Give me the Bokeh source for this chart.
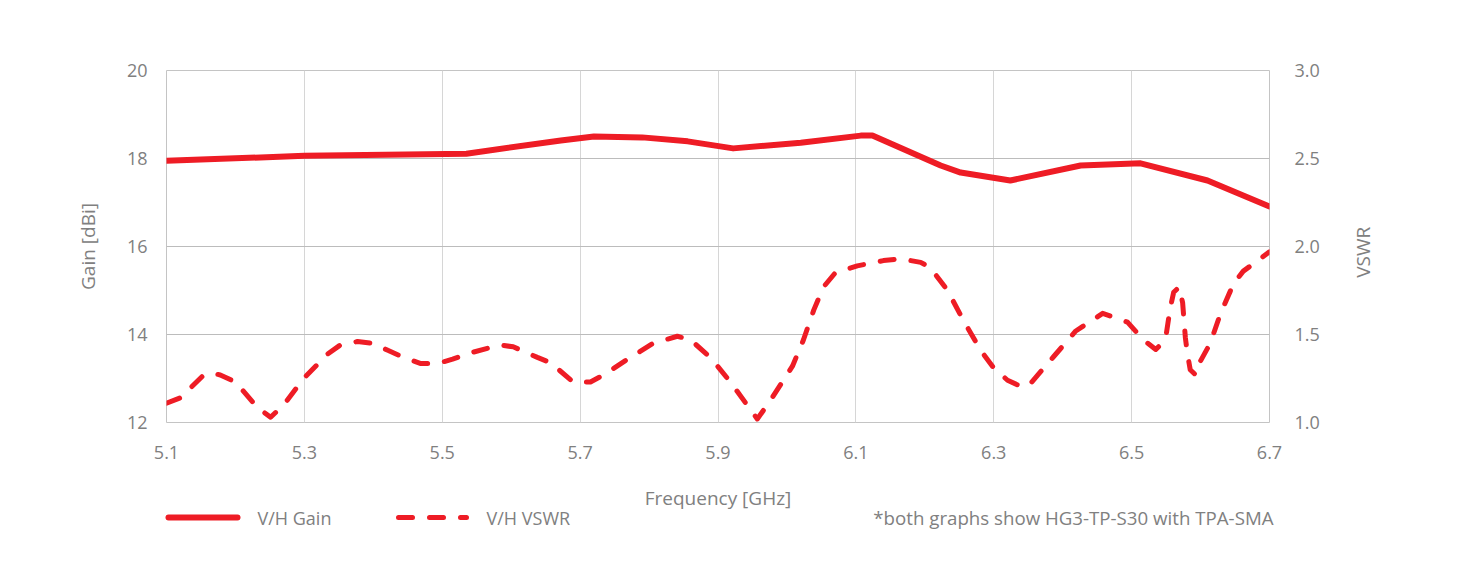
import math
from bokeh.plotting import figure
from bokeh.layouts import column, row
from bokeh.models import Range1d, LinearAxis, FixedTicker, NumeralTickFormatter
from bokeh.core.properties import value
from bokeh.embed import file_html
from bokeh.resources import INLINE

# ---------------- data ----------------
freq_gain = [5.100, 5.300, 5.535, 5.672, 5.720, 5.790, 5.856, 5.922, 6.020,
             6.107, 6.124, 6.223, 6.252, 6.324, 6.426, 6.513, 6.610, 6.700]
gain = [17.95, 18.06, 18.11, 18.41, 18.50, 18.48, 18.39, 18.23, 18.36,
        18.52, 18.52, 17.84, 17.68, 17.50, 17.84, 17.89, 17.50, 16.91]

freq_vswr = [5.100, 5.120, 5.154, 5.167, 5.178, 5.200, 5.232, 5.251, 5.270, 5.299,
             5.334, 5.352, 5.377, 5.400, 5.421, 5.444, 5.469, 5.493, 5.515, 5.545,
             5.584, 5.603, 5.638, 5.657, 5.690, 5.715, 5.734, 5.769, 5.806, 5.841,
             5.860, 5.889, 5.918, 5.957, 5.976, 6.008, 6.024, 6.039, 6.053, 6.070,
             6.102, 6.140, 6.165, 6.194, 6.208, 6.233, 6.256, 6.281, 6.300, 6.320,
             6.342, 6.353, 6.387, 6.419, 6.458, 6.494, 6.517, 6.535, 6.549, 6.556,
             6.561, 6.569, 6.574, 6.578, 6.581, 6.585, 6.593, 6.600, 6.614, 6.629,
             6.648, 6.662, 6.683, 6.700]
vswr = [1.11, 1.14, 1.27, 1.28, 1.27, 1.23, 1.085, 1.03, 1.10, 1.25,
        1.39, 1.44, 1.46, 1.45, 1.41, 1.37, 1.335, 1.335, 1.36, 1.40,
        1.44, 1.43, 1.37, 1.34, 1.23, 1.23, 1.27, 1.36, 1.45, 1.49,
        1.47, 1.37, 1.23, 1.02, 1.125, 1.32, 1.47, 1.64, 1.77, 1.85,
        1.89, 1.92, 1.93, 1.91, 1.88, 1.75, 1.58, 1.41, 1.31, 1.24,
        1.20, 1.22, 1.375, 1.52, 1.62, 1.57, 1.47, 1.415, 1.47, 1.65,
        1.74, 1.77, 1.68, 1.48, 1.39, 1.30, 1.27, 1.35, 1.45, 1.62,
        1.79, 1.86, 1.92, 1.97]

x_ticks = [5.1, 5.3, 5.5, 5.7, 5.9, 6.1, 6.3, 6.5, 6.7]
gain_ticks = [12, 14, 16, 18, 20]
vswr_ticks = [1.0, 1.5, 2.0, 2.5, 3.0]

series_names = ["V/H Gain", "V/H VSWR"]
x_title = "Frequency [GHz]"
y_title = "Gain [dBi]"
y2_title = "VSWR"
note = "*both graphs show HG3-TP-S30 with TPA-SMA"

# ---------------- style / layout ----------------
RED = "#EE1C25"
GREY = "#808080"
FONT = "Open Sans"
FS = "18px"
TITLE_FS = "19px"

TOTAL_W, TOTAL_H = 1446, 557
LEFT, TOP, FW, FH = 166, 70, 1103, 352
MAIN_W, MAIN_H = 1340, 482
RIGHT_W = TOTAL_W - MAIN_W
BOTTOM_H = TOTAL_H - MAIN_H


def blank(w, h):
    f = figure(width=w, height=h, output_backend="svg", toolbar_location=None,
               x_range=Range1d(0, w), y_range=Range1d(0, h),
               x_axis_location=None, y_axis_location=None, min_border=0,
               border_fill_color="white", background_fill_color="white")
    f.outline_line_color = None
    f.grid.visible = False
    return f


# ---------------- main chart ----------------
p = figure(width=MAIN_W, height=MAIN_H, output_backend="svg", toolbar_location=None,
           x_range=Range1d(x_ticks[0], x_ticks[-1]), y_range=Range1d(gain_ticks[0], gain_ticks[-1]),
           min_border_left=LEFT, min_border_right=MAIN_W - LEFT - FW, min_border_top=TOP,
           min_border_bottom=MAIN_H - TOP - FH, background_fill_color="white",
           border_fill_color="white")
p.extra_y_ranges = {"vswr": Range1d(vswr_ticks[0], vswr_ticks[-1])}
p.outline_line_color = "#c4c4c4"
p.outline_line_width = 1

left = p.yaxis[0]
bottom = p.xaxis[0]
bottom.ticker = FixedTicker(ticks=x_ticks)
bottom.formatter = NumeralTickFormatter(format="0.0")
left.ticker = FixedTicker(ticks=gain_ticks)
left.formatter = NumeralTickFormatter(format="0")

p.xgrid.grid_line_color = "#d6d6d6"
p.ygrid.grid_line_color = "#bcbcbc"

right = LinearAxis(y_range_name="vswr", ticker=FixedTicker(ticks=vswr_ticks),
                   formatter=NumeralTickFormatter(format="0.0"))
p.add_layout(right, "right")

for ax in [bottom, left, right]:
    ax.axis_line_color = None
    ax.major_tick_line_color = None
    ax.minor_tick_line_color = None
    ax.major_tick_out = 0
    ax.major_tick_in = 0
    ax.major_label_text_font = FONT
    ax.major_label_text_font_size = FS
    ax.major_label_text_color = GREY
    ax.axis_label_text_font = FONT
    ax.axis_label_text_font_size = TITLE_FS
    ax.axis_label_text_color = GREY
    ax.axis_label_text_font_style = "normal"

bottom.major_label_standoff = 23
left.major_label_standoff = 19
right.major_label_standoff = 25
left.axis_label = y_title
left.axis_label_standoff = 23

p.line(freq_gain, gain, line_width=6, line_color=RED, line_join="round", line_cap="round")
p.line(freq_vswr, vswr, y_range_name="vswr", line_width=5, line_color=RED,
       line_dash="14 17", line_join="round", line_cap="round")

# ---------------- right title strip ----------------
r = blank(RIGHT_W, MAIN_H)
r.text(x=[22], y=[MAIN_H - 249], text=[y2_title], angle=math.pi / 2,
       text_font=value(FONT), text_font_size=TITLE_FS, text_color=GREY,
       text_align="center", text_baseline="middle")

# ---------------- bottom strip: x title, legend, note ----------------
b = blank(TOTAL_W, BOTTOM_H)
title_y = BOTTOM_H - (497 - MAIN_H)
leg_y = BOTTOM_H - (517 - MAIN_H)
b.text(x=[LEFT + FW / 2], y=[title_y], text=[x_title], text_font=value(FONT),
       text_font_size=TITLE_FS, text_color=GREY, text_align="center", text_baseline="middle")
b.line(x=[168, 237], y=[leg_y, leg_y], line_width=6, line_color=RED, line_cap="round")
b.line(x=[398, 466], y=[leg_y, leg_y], line_width=5, line_color=RED, line_cap="round",
       line_dash="14 17")
b.text(x=[257, 486], y=[leg_y, leg_y], text=series_names, text_font=value(FONT),
       text_font_size=FS, text_color=GREY, text_align="left", text_baseline="middle")
b.text(x=[1273], y=[leg_y], text=[note], text_font=value(FONT), text_font_size="18.7px",
       text_color=GREY, text_align="right", text_baseline="middle")

layout = column(row(p, r), b)
open("out.html", "w").write(file_html(layout, INLINE))
